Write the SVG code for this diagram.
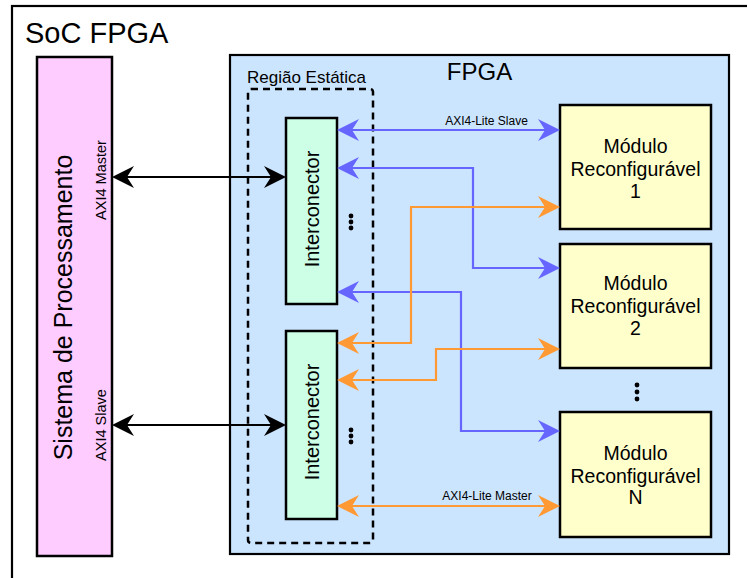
<svg xmlns="http://www.w3.org/2000/svg" width="747" height="578" viewBox="0 0 747 578">
  <style>
    text { font-family: "Liberation Sans", Arial, sans-serif; fill: #000; }
    .box { stroke: #000; stroke-width: 2.5; }
    .conn { fill: none; stroke-width: 2.2; }
    .blue { stroke: #6666FF; }
    .orange { stroke: #FF9933; }
    .black { stroke: #000; }
    .mid { text-anchor: middle; }
  </style>
  <defs>
    <marker id="arrBlue" markerUnits="userSpaceOnUse" markerWidth="22" markerHeight="22" viewBox="0 -11 22 22" refX="7" refY="0" orient="auto-start-reverse">
      <path d="M0,-11 L22,0 L0,11 L7,0 Z" fill="#6666FF"/>
    </marker>
    <marker id="arrOrange" markerUnits="userSpaceOnUse" markerWidth="22" markerHeight="22" viewBox="0 -11 22 22" refX="7" refY="0" orient="auto-start-reverse">
      <path d="M0,-11 L22,0 L0,11 L7,0 Z" fill="#FF9933"/>
    </marker>
    <marker id="arrBlack" markerUnits="userSpaceOnUse" markerWidth="22" markerHeight="22" viewBox="0 -11 22 22" refX="7" refY="0" orient="auto-start-reverse">
      <path d="M0,-11 L22,0 L0,11 L7,0 Z" fill="#000"/>
    </marker>
  </defs>

  <rect width="747" height="578" fill="#fff"/>

  <!-- SoC outer frame -->
  <g id="soc">
    <rect x="12" y="6" width="760" height="600" fill="#fff" stroke="#000" stroke-width="2.2"/>
    <text x="25" y="43" font-size="29">SoC FPGA</text>
  </g>

  <!-- Processing system -->
  <g id="ps">
    <rect class="box" x="37" y="57" width="75" height="499" fill="#FFCCFF"/>
    <text class="mid" transform="translate(72,307.5) rotate(-90)" font-size="25">Sistema de Processamento</text>
    <text class="mid" transform="translate(106,180) rotate(-90)" font-size="14.5">AXI4 Master</text>
    <text class="mid" transform="translate(106,425) rotate(-90)" font-size="14.5">AXI4 Slave</text>
  </g>

  <!-- FPGA fabric -->
  <g id="fpga">
    <rect x="230" y="55" width="499" height="499" fill="#CCE5FF" stroke="#000" stroke-width="2.2"/>
    <text class="mid" x="479.5" y="80" font-size="24">FPGA</text>
  </g>

  <!-- Static region -->
  <g id="static-region">
    <rect x="248" y="89" width="125" height="454" rx="3" fill="none" stroke="#000" stroke-width="2.5" stroke-dasharray="7,5"/>
    <text x="247" y="83" font-size="17">Região Estática</text>
  </g>

  <g id="interconnect-1">
    <rect class="box" x="286" y="118" width="51" height="186" fill="#CCFFE6"/>
    <text class="mid" transform="translate(319,209) rotate(-90)" font-size="20">Interconector</text>
  </g>

  <g id="interconnect-2">
    <rect class="box" x="286" y="331" width="51" height="188" fill="#CCFFE6"/>
    <text class="mid" transform="translate(319,422) rotate(-90)" font-size="20">Interconector</text>
  </g>

  <g id="module-1">
    <rect class="box" x="560" y="105" width="151" height="124" fill="#FFFFCC"/>
    <text class="mid" x="635.5" y="153" font-size="19.5">Módulo</text>
    <text class="mid" x="635.5" y="175.5" font-size="19.5">Reconfigurável</text>
    <text class="mid" x="635.5" y="197.5" font-size="19.5">1</text>
  </g>

  <g id="module-2">
    <rect class="box" x="560" y="244" width="151" height="124" fill="#FFFFCC"/>
    <text class="mid" x="635.5" y="290" font-size="19.5">Módulo</text>
    <text class="mid" x="635.5" y="312.5" font-size="19.5">Reconfigurável</text>
    <text class="mid" x="635.5" y="334.5" font-size="19.5">2</text>
  </g>

  <g id="module-n">
    <rect class="box" x="560" y="412" width="151" height="125" fill="#FFFFCC"/>
    <text class="mid" x="635.5" y="460" font-size="19.5">Módulo</text>
    <text class="mid" x="635.5" y="482.5" font-size="19.5">Reconfigurável</text>
    <text class="mid" x="635.5" y="504" font-size="19.5">N</text>
  </g>

  <!-- Ellipsis marks -->
  <g id="ellipses" fill="#000">
    <circle cx="351" cy="216" r="2.4"/><circle cx="351" cy="222" r="2.4"/><circle cx="351" cy="228" r="2.4"/>
    <circle cx="351" cy="430" r="2.4"/><circle cx="351" cy="436" r="2.4"/><circle cx="351" cy="442" r="2.4"/>
    <circle cx="637" cy="385" r="2.4"/><circle cx="637" cy="392" r="2.4"/><circle cx="637" cy="399" r="2.4"/>
  </g>

  <!-- Connectors -->
  <g id="connectors">
    <path class="conn black" d="M127,177 H271" marker-start="url(#arrBlack)" marker-end="url(#arrBlack)"/>
    <path class="conn black" d="M127,425 H271" marker-start="url(#arrBlack)" marker-end="url(#arrBlack)"/>

    <path class="conn blue" d="M352,130 H545" marker-start="url(#arrBlue)" marker-end="url(#arrBlue)"/>
    <path class="conn blue" d="M352,168 H473 V268 H545" marker-start="url(#arrBlue)" marker-end="url(#arrBlue)"/>
    <path class="conn blue" d="M352,292 H461 V431 H545" marker-start="url(#arrBlue)" marker-end="url(#arrBlue)"/>

    <path class="conn orange" d="M352,343 H411 V207 H545" marker-start="url(#arrOrange)" marker-end="url(#arrOrange)"/>
    <path class="conn orange" d="M352,380 H436 V349 H545" marker-start="url(#arrOrange)" marker-end="url(#arrOrange)"/>
    <path class="conn orange" d="M352,506 H545" marker-start="url(#arrOrange)" marker-end="url(#arrOrange)"/>

    <text class="mid" x="486.5" y="125" font-size="12">AXI4-Lite Slave</text>
    <text class="mid" x="487" y="500" font-size="12">AXI4-Lite Master</text>
  </g>
</svg>
